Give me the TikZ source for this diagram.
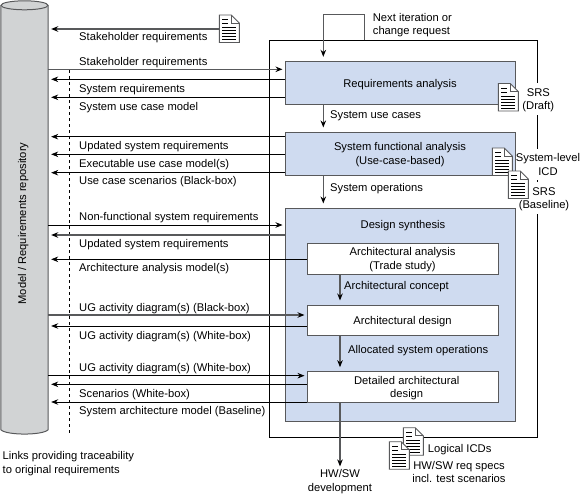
\documentclass[tikz,border=0pt]{standalone}
\usepackage{fontspec}
\setmainfont{Liberation Sans}
\usetikzlibrary{arrows.meta}

\definecolor{boxblue}{HTML}{CFDBF0}
\definecolor{repogray}{HTML}{D1D3D4}
\definecolor{linegray}{HTML}{58595B}

\tikzset{
	every node/.style={font=\fontsize{11.2}{13.6}\selectfont,inner sep=0pt,text depth=0pt},
	phase/.style={draw=linegray,line width=1pt,fill=boxblue},
	task/.style={draw=linegray,line width=1pt,fill=white,minimum width=191pt},
	flowlabel/.style={anchor=west},
	sidelabel/.style={align=center,fill=white,inner ysep=5pt},
	grayflow/.style={draw=linegray,line width=1.15pt,-{Stealth[length=7pt,width=5.5pt,color=black]}},
	blackflow/.style={draw=black,line width=.7pt,-{Stealth[length=7pt,width=5.5pt]}},
	torepo/.style={shorten >=3pt},
	frombox/.style={shorten >=2pt},
	doc/.pic={
		\draw[linegray,line width=.9pt,fill=white] (0,0) -- (12,0) -- (20,8) -- (20,27.5) -- (0,27.5) -- cycle;
		\draw[linegray,line width=.7pt] (12,0) -- (12,8) -- (20,8);
		\foreach \ypos in {4.5,8.5} \draw[black,line width=.6pt] (3,\ypos) -- (9,\ypos);
		\foreach \ypos in {12.5,15.5,18.5,21.5,24.5} \draw[black,line width=.6pt] (3,\ypos) -- (17,\ypos);
		\coordinate (-w) at (0,13.5);
	}
}

\begin{document}
\begin{tikzpicture}[x=1pt,y=-1pt]
	\useasboundingbox (0,0) rectangle (580,495);
	
	% Repository
	\node[minimum width=47pt,minimum height=424pt,fill=repogray] (repo) at (24.5,217.5) {};
	\draw[linegray,line width=1pt,fill=repogray] (repo.north west) -- (repo.south west)
	.. controls (6,435.5) and (43,435.5) .. (repo.south east) -- (repo.north east);
	\draw[linegray,line width=1pt,fill=repogray] (repo.north) ellipse [x radius=23.5,y radius=4.5];
	\node[rotate=90] (repolabel) at (22,223.5) {Model / Requirements repository};
	\draw[dashed,line width=.6pt] (69,70) -- (69,433);
	
	% Outer frame and phases
	\node[draw,line width=.9pt,minimum width=267.5pt,minimum height=396.5pt] (frame) at (403.25,238.75) {};
	\node[phase,minimum width=230pt,minimum height=43.4pt] (ra) at (400,83) {Requirements analysis};
	\node[phase,minimum width=230pt,minimum height=43pt,align=center] (sfa) at (400,153.5) {System functional analysis\\(Use-case-based)};
	\node[phase,minimum width=230pt,minimum height=213.7pt] (ds) at (400,314.85) {};
	\node (dslabel) at (403,224) {Design synthesis};
	
	% Tasks in the synthesis
	\node[task,minimum height=31pt,align=center] (aa) at (402.5,258.5) {Architectural analysis\\(Trade study)};
	\node[task,minimum height=30.7pt] (ad) at (402.5,320.35) {Architectural design};
	\node[task,minimum height=30.6pt] (dad) at (402.5,387) {};
	\node[align=center] (dadlabel) at (406.7,387) {Detailed architectural\\design};
	
	% Labels on the frame
	\node[sidelabel] (srsdraft) at (538.3,99) {SRS\\(Draft)};
	\node[sidelabel] (icdlabel) at (548,164.5) {System-level\\ICD};
	\node[sidelabel] (srsbase) at (544,198) {SRS\\(Baseline)};
	
	% Documents
	\pic (docsh) at (219.3,15) {doc};
	\pic (docdraft) at (498.3,83.5) {doc};
	\pic (docicd) at (492.3,148) {doc};
	\pic (docbase) at (508.3,171) {doc};
	\pic (doclog) at (403.3,427.7) {doc};
	\pic (dochw) at (389.3,441.7) {doc};
	
	% Flows to and from the repository
	\draw[grayflow,torepo] (docsh-w |- 0,29) -- (repo.east |- 0,29);
	\draw[grayflow,frombox] (repo.east |- 0,69.3) -- (ra.west |- 0,69.3);
	\foreach \ypos in {79.3,97.3}
	\draw[blackflow,torepo] (ra.west |- 0,\ypos) -- (repo.east |- 0,\ypos);
	\foreach \ypos in {136.7,154.3,172.7}
	\draw[blackflow,torepo] (sfa.west |- 0,\ypos) -- (repo.east |- 0,\ypos);
	\draw[blackflow,frombox] (repo.east |- 0,225) -- (ds.west |- 0,225);
	\draw[grayflow,torepo] (ds.west |- 0,235) -- (repo.east |- 0,235);
	\draw[blackflow,torepo] (aa.west |- 0,259.3) -- (repo.east |- 0,259.3);
	\draw[grayflow,frombox] (repo.east |- 0,315) -- (ad.west |- 0,315);
	\draw[blackflow,torepo] (ad.west |- 0,326) -- (repo.east |- 0,326);
	\draw[blackflow,frombox] (repo.east |- 0,375.7) -- (dad.west |- 0,375.7);
	\draw[blackflow,torepo] (dad.west |- 0,384.3) -- (repo.east |- 0,384.3);
	\draw[blackflow,torepo] (dad.west |- 0,402) -- (repo.east |- 0,402);
	
	% Flows between the phases
	\coordinate (loopstart) at (364.3,40.5);
	\draw[grayflow,shorten >=4pt] (loopstart) |- (323.3,14.5) -- (323.3,0 |- ra.north);
	\draw[grayflow,shorten >=4pt] (323.3,0 |- ra.south) -- (323.3,0 |- sfa.north);
	\draw[grayflow,shorten >=4pt] (323.3,0 |- sfa.south) -- (323.3,0 |- ds.north);
	\draw[grayflow,shorten >=4pt] (340,0 |- aa.south) -- (340,0 |- ad.north);
	\draw[grayflow,shorten >=4pt] (340,0 |- ad.south) -- (340,0 |- dad.north);
	\node[align=center] (hwsw) at (340,480.5) {HW/SW\\development};
	\draw[grayflow,shorten >=3pt] (340,0 |- dad.south) -- (340,0 |- hwsw.north);
	
	% Flow labels
	\node[flowlabel] (l1) at (79,36.7) {Stakeholder requirements};
	\node[flowlabel] (l2) at (79,61.7) {Stakeholder requirements};
	\node[flowlabel] (l3) at (79,88.7) {System requirements};
	\node[flowlabel] (l4) at (79,106) {System use case model};
	\node[flowlabel] (l5) at (79,145) {Updated system requirements};
	\node[flowlabel] (l6) at (79,163) {Executable use case model(s)};
	\node[flowlabel] (l7) at (79,180.7) {Use case scenarios (Black-box)};
	\node[flowlabel] (l8) at (79,216.7) {Non-functional system requirements};
	\node[flowlabel] (l9) at (79,243.7) {Updated system requirements};
	\node[flowlabel] (l10) at (79,267.7) {Architecture analysis model(s)};
	\node[flowlabel] (l11) at (79,307.7) {UG activity diagram(s) (Black-box)};
	\node[flowlabel] (l12) at (79,335) {UG activity diagram(s) (White-box)};
	\node[flowlabel] (l13) at (79,367.7) {UG activity diagram(s) (White-box)};
	\node[flowlabel] (l14) at (79,393.3) {Scenarios (White-box)};
	\node[flowlabel] (l15) at (79,410.7) {System architecture model (Baseline)};
	\node[flowlabel,align=left] (links) at (2.5,462.7) {Links providing traceability\\to original requirements};
	\node[flowlabel,align=left] (next) at (372.7,24) {Next iteration or\\change request};
	\node[flowlabel] (usecases) at (330,115) {System use cases};
	\node[flowlabel] (sysops) at (330,187) {System operations};
	\node[flowlabel] (concept) at (344,285) {Architectural concept};
	\node[flowlabel] (alloc) at (348,349) {Allocated system operations};
	\node[flowlabel] (logical) at (427.7,448) {Logical ICDs};
	\node[align=center] (hwspecs) at (459,471.8) {HW/SW req specs\\incl. test scenarios};
\end{tikzpicture}
\end{document}
